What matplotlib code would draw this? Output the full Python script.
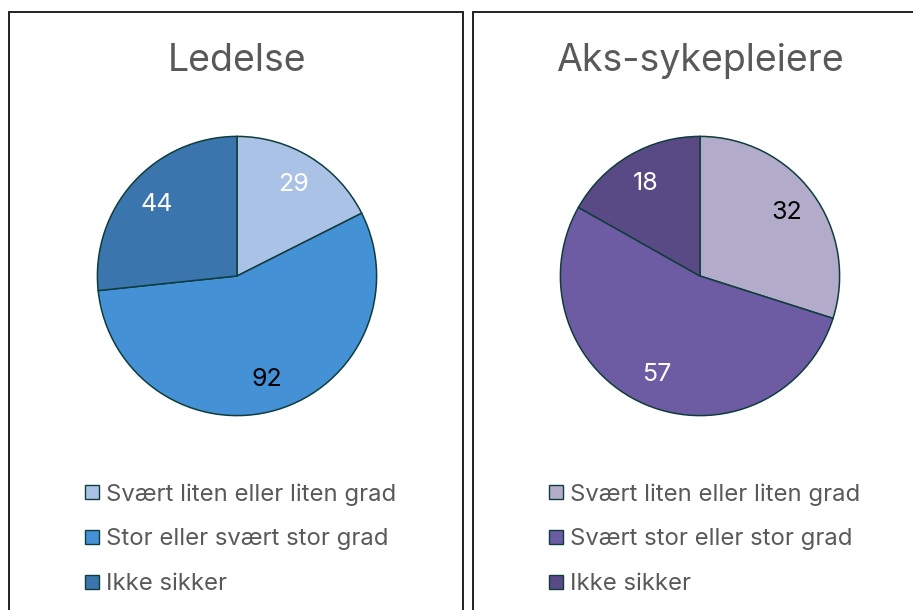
import matplotlib
matplotlib.use("Agg")
import matplotlib.pyplot as plt
from matplotlib.patches import Rectangle, Patch

plt.rcParams['font.family'] = ['Inter', 'DejaVu Sans']

titles = ["Ledelse", "Aks-sykepleiere"]
labels_left = ["Svært liten eller liten grad", "Stor eller svært stor grad", "Ikke sikker"]
labels_right = ["Svært liten eller liten grad", "Svært stor eller stor grad", "Ikke sikker"]
values_left = [29, 92, 44]
values_right = [32, 57, 18]
colors_left = ["#A9C2E6", "#4591D6", "#3A75AE"]
colors_right = ["#B2ACCA", "#6D5BA3", "#594A86"]
label_colors_left = ["white", "black", "white"]
label_colors_right = ["black", "white", "white"]

W, H = 913, 610
fig = plt.figure(figsize=(W / 100, H / 100), dpi=100)
fig.patch.set_facecolor("white")

edge = "#0f3d3d"
text_gray = "#595959"

def px(x, y):
    return x / W, 1 - y / H

# panel borders
for (x0, y0, x1, y1) in [(9, 12, 463, 640), (473, 12, 960, 640)]:
    fx0, fy1 = px(x0, y0)
    fx1, fy0 = px(x1, y1)
    fig.patches.append(Rectangle((fx0, fy0), fx1 - fx0, fy1 - fy0, transform=fig.transFigure,
                                 fill=False, edgecolor="#222222", linewidth=1.4, zorder=0))

panels = [
    (237, 276, titles[0], values_left, colors_left, label_colors_left, labels_left, 85),
    (700, 276, titles[1], values_right, colors_right, label_colors_right, labels_right, 549),
]
R = 141
for cx, cy, title, vals, cols, lcols, labs, legx in panels:
    ax = fig.add_axes([(cx - R) / W, (H - cy - R) / H, 2 * R / W, 2 * R / H])
    wedges, texts, autotexts = ax.pie(
        vals, colors=cols, startangle=90, counterclock=False, radius=1,
        autopct=lambda p, v=vals: f"{round(p * sum(v) / 100):d}", pctdistance=0.77,
        wedgeprops=dict(edgecolor=edge, linewidth=1.1),
        textprops=dict(fontsize=18))
    for t, c in zip(autotexts, lcols):
        t.set_color(c)
    ax.set_xlim(-1.01, 1.01)
    ax.set_ylim(-1.01, 1.01)
    ax.set_aspect("equal")
    ax.axis("off")
    tx, ty = px(cx, 71)
    fig.text(tx, ty, title, ha="center", va="baseline", fontsize=27, color=text_gray)
    handles = [Patch(facecolor=c, edgecolor=edge, linewidth=1.0) for c in cols]
    lx, ly = px(legx, 483)
    fig.legend(handles, labs, loc="upper left", bbox_to_anchor=(lx, ly),
               bbox_transform=fig.transFigure, frameon=False, borderaxespad=0,
               borderpad=0, handletextpad=0.3, handlelength=0.58, handleheight=0.58,
               labelspacing=0.96, fontsize=17.2, labelcolor=text_gray)

fig.savefig("out.png", dpi=100)
